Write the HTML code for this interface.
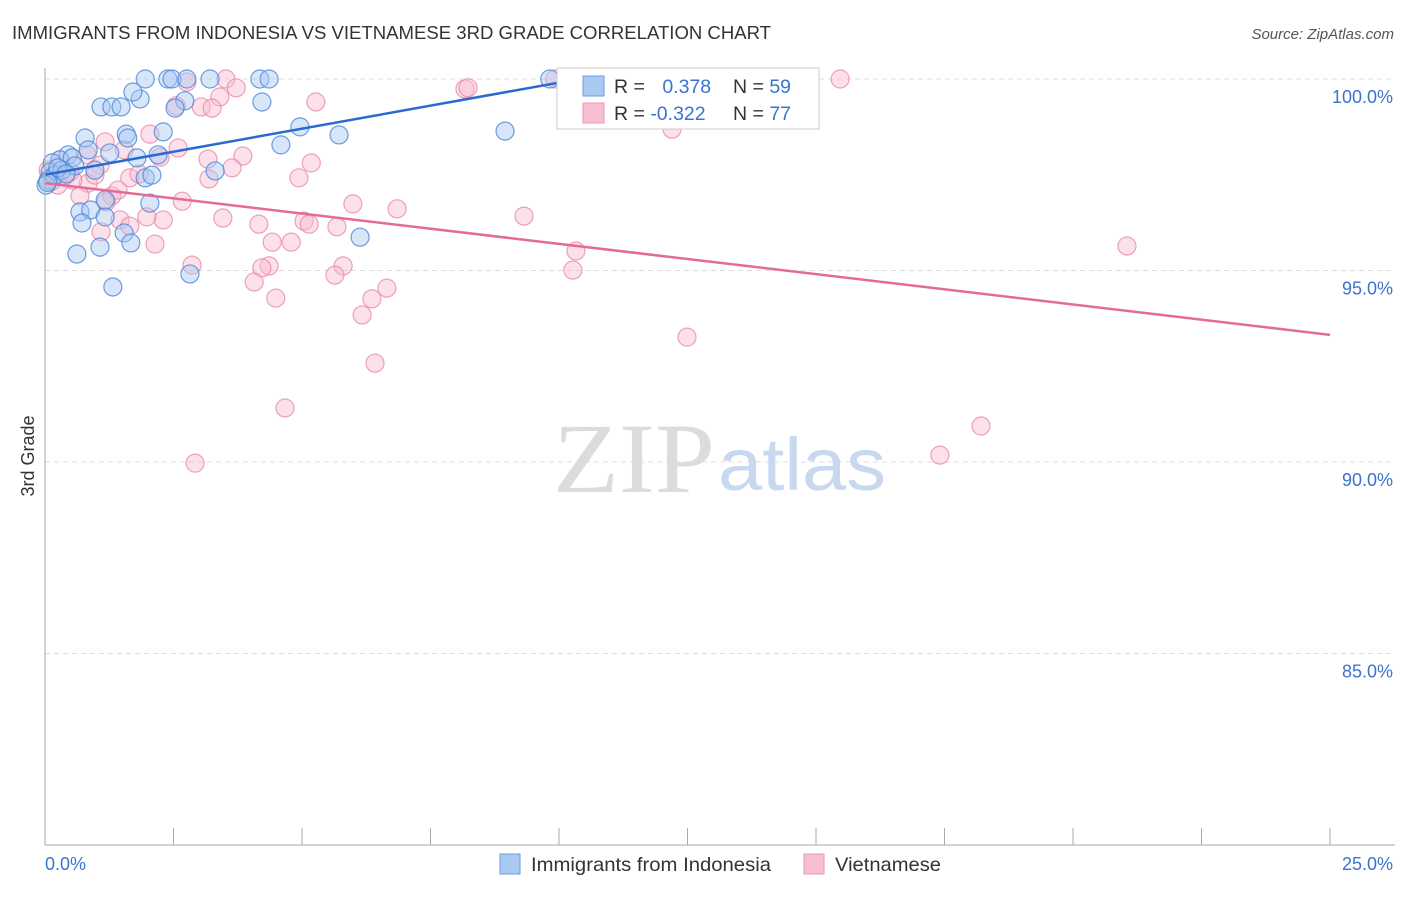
<!DOCTYPE html>
<html><head><meta charset="utf-8"><style>
body{margin:0;background:#fff;font-family:"Liberation Sans",sans-serif}
svg text{font-family:"Liberation Sans",sans-serif}
</style></head><body>
<svg width="1406" height="892" xmlns="http://www.w3.org/2000/svg">
<text x="12" y="39" font-size="18" fill="#333" textLength="759" lengthAdjust="spacingAndGlyphs">IMMIGRANTS FROM INDONESIA VS VIETNAMESE 3RD GRADE CORRELATION CHART</text>
<text x="1394" y="39" font-size="15" fill="#555" text-anchor="end" font-style="italic">Source: ZipAtlas.com</text>
<g id="grid"></g>
<text x="553" y="492" font-size="100" fill="#dcdcdc" textLength="162" lengthAdjust="spacingAndGlyphs" font-family="Liberation Serif" style="font-family:'Liberation Serif',serif">ZIP</text>
<text x="718" y="490" font-size="74" fill="#c8d8ee" textLength="168" lengthAdjust="spacingAndGlyphs">atlas</text>
<g id="pts"></g>
<g id="axes"></g>
<text x="34" y="456" font-size="18" fill="#333" transform="rotate(-90 34 456)" text-anchor="middle">3rd Grade</text>
<g>
<rect x="557" y="68" width="262" height="61" fill="#fff" stroke="#ccc"/>
<rect x="583" y="76" width="21" height="20" fill="#a9c8f2" stroke="#6a9be0"/>
<rect x="583" y="103" width="21" height="20" fill="#f8bdd0" stroke="#e99ab5"/>
<text x="614" y="93" font-size="19.5" fill="#333">R = <tspan fill="#3b73d1" dx="12">0.378</tspan></text>
<text x="733" y="93" font-size="19.5" fill="#333">N = <tspan fill="#3b73d1">59</tspan></text>
<text x="614" y="120" font-size="19.5" fill="#333">R = <tspan fill="#3b73d1">-0.322</tspan></text>
<text x="733" y="120" font-size="19.5" fill="#333">N = <tspan fill="#3b73d1">77</tspan></text>
</g>
<g>
<rect x="500" y="854" width="20" height="20" fill="#a9c8f2" stroke="#6a9be0"/>
<text x="531" y="871" font-size="19.5" fill="#333" textLength="240" lengthAdjust="spacingAndGlyphs">Immigrants from Indonesia</text>
<rect x="804" y="854" width="20" height="20" fill="#f8bdd0" stroke="#e99ab5"/>
<text x="835" y="871" font-size="19.5" fill="#333" textLength="106" lengthAdjust="spacingAndGlyphs">Vietnamese</text>
</g>
</svg>
<script>
const yTicks=[100,95,90,85];
const yTickLabels=["100.0%","95.0%","90.0%","85.0%"];
const xTicks=[0,2.5,5,7.5,10,12.5,15,17.5,20,22.5,25];
const blueX=[1.95,2.39,2.47,2.76,3.21,4.18,4.36,9.82,10.52,1.09,1.30,1.48,1.85,1.71,2.72,4.22,2.53,0.78,1.58,1.61,2.30,4.96,5.72,8.95,4.59,1.26,0.84,0.45,0.29,0.53,1.79,2.20,1.95,2.08,0.97,0.58,0.14,0.10,0.06,0.19,0.33,3.31,0.68,0.89,1.17,0.72,1.54,1.67,1.07,0.62,1.32,2.82,2.04,6.13,1.17,0.02,0.25,0.41,0.05];
const blueY=[100,100,100,100,100,100,100,100,100,99.27,99.27,99.27,99.48,99.66,99.43,99.40,99.24,98.46,98.56,98.46,98.62,98.75,98.54,98.64,98.28,98.07,98.15,98.02,97.89,97.94,97.94,98.02,97.42,97.49,97.62,97.73,97.81,97.57,97.36,97.49,97.62,97.60,96.53,96.58,96.40,96.24,95.98,95.72,95.61,95.43,94.57,94.91,96.76,95.87,96.84,97.23,97.68,97.52,97.30];
const pinkX=[15.47,9.92,3.52,3.72,2.76,8.17,8.23,5.27,3.40,3.04,3.25,2.55,2.04,2.59,1.17,1.54,3.85,3.17,3.64,2.24,0.82,1.07,1.65,1.83,3.19,4.94,5.18,0.84,0.25,0.14,1.30,0.68,1.19,2.67,5.99,6.85,9.32,3.46,2.30,1.46,1.98,1.09,1.65,4.16,5.04,5.14,5.68,4.42,4.79,2.14,10.33,21.05,2.86,4.36,4.22,5.80,10.27,4.07,5.64,6.65,6.36,4.49,6.17,6.42,12.49,4.67,2.92,17.41,18.21,12.20,0.97,0.49,1.42,0.29,0.06,0.54,0.39];
const pinkY=[100,100,100,99.77,99.92,99.74,99.77,99.40,99.53,99.27,99.24,99.30,98.56,98.20,98.36,98.15,97.99,97.91,97.68,97.96,98.02,97.75,97.42,97.52,97.39,97.42,97.81,97.28,97.23,97.34,96.95,96.95,96.79,96.81,96.74,96.61,96.42,96.37,96.32,96.32,96.40,96.01,96.16,96.21,96.29,96.21,96.14,95.74,95.74,95.69,95.51,95.64,95.14,95.12,95.07,95.12,95.01,94.70,94.88,94.54,94.26,94.28,93.84,92.58,93.26,91.41,89.97,90.18,90.94,98.69,97.49,97.57,97.10,97.89,97.62,97.36,97.47];
const blueTrendX=[0,10.6];
const blueTrendY=[97.5,100.05];
const pinkTrendX=[0,25];
const pinkTrendY=[97.28,93.32];
const NS="http://www.w3.org/2000/svg";
const sx=v=>45+v*51.4;
const sy=v=>79+(100-v)*38.3;
function mk(tag,attrs,parent){const e=document.createElementNS(NS,tag);for(const k in attrs)e.setAttribute(k,attrs[k]);parent.appendChild(e);return e;}
const grid=document.getElementById('grid'),axes=document.getElementById('axes'),pts=document.getElementById('pts');
yTicks.forEach((t,i)=>{
 const l=mk('line',{x1:45,x2:1395,y1:sy(t),y2:sy(t),stroke:'#ddd','stroke-dasharray':'5,4'},grid);
 
 
 const tx=mk('text',{x:1393,y:sy(t)+24,'font-size':18,fill:'#3b73d1','text-anchor':'end'},axes);
 tx.textContent=yTickLabels[i];
 
 
});
const ya=mk('line',{x1:45,x2:45,y1:68,y2:845,stroke:'#aaa'},axes);


const xa=mk('line',{x1:45,x2:1395,y1:845,y2:845,stroke:'#aaa'},axes);


xTicks.forEach(t=>{
 const l=mk('line',{x1:sx(t),x2:sx(t),y1:828,y2:845,stroke:'#aaa'},axes);
 
 
});
[[0,'0.0%','start',45],[25,'25.0%','end',1393]].forEach(a=>{
 const tx=mk('text',{x:a[3],y:870,'font-size':18,fill:'#3b73d1','text-anchor':a[2]},axes);
 tx.textContent=a[1];
 
 
});
function series(X,Y,fill,stroke,name){
 X.forEach((x,i)=>{
  const c=mk('circle',{cx:sx(x),cy:sy(Y[i]),r:9,fill:fill,'fill-opacity':0.45,stroke:stroke,'stroke-width':1.2,'stroke-opacity':0.8},pts);
  
  
 });
}
series(pinkX,pinkY,'#f8bdd0','#e98aaa','point-vietnamese');
series(blueX,blueY,'#a9c8f2','#4a86d8','point-indonesia');
const bl=mk('line',{x1:sx(blueTrendX[0]),y1:sy(blueTrendY[0]),x2:sx(blueTrendX[1]),y2:sy(blueTrendY[1]),stroke:'#2a6ad0','stroke-width':2.5},pts);


const pl=mk('line',{x1:sx(pinkTrendX[0]),y1:sy(pinkTrendY[0]),x2:sx(pinkTrendX[1]),y2:sy(pinkTrendY[1]),stroke:'#e66a98','stroke-width':2.5},pts);


</script>
</body></html>
